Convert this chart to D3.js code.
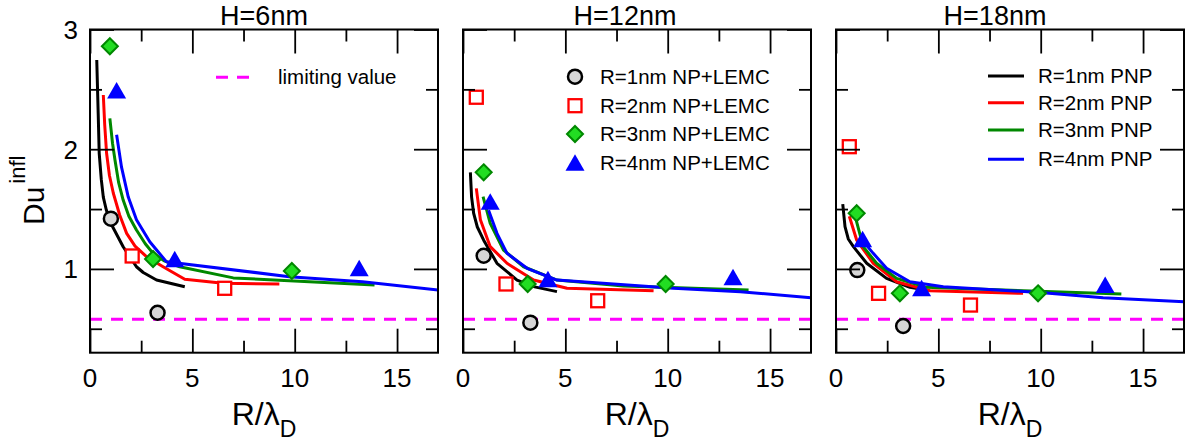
<!DOCTYPE html>
<html lang="en">
<head>
  <meta charset="UTF-8">
  <title>Du infl vs R/lambda_D</title>
  <style>
    body { margin: 0; background: #fff; }
    svg { display: block; font-family: "Liberation Sans", Arial, Helvetica, sans-serif; }
  </style>
</head>
<body>
  <div id="chart"></div>

  <script src="https://d3js.org/d3.v7.min.js"></script>
  <script>

    // ---- data ----
    const panelTitles = ["H=6nm", "H=12nm", "H=18nm"];
    const xMajor = [0, 5, 10, 15],
          xMinor = [2.5, 7.5, 12.5],
          yMajor = [1, 2, 3],
          yMinor = [0.5, 1.5, 2.5];
    const limitingValue = 0.58;

    const lemcLabels = ["R=1nm NP+LEMC", "R=2nm NP+LEMC", "R=3nm NP+LEMC", "R=4nm NP+LEMC"];
    const pnpLabels = ["R=1nm PNP", "R=2nm PNP", "R=3nm PNP", "R=4nm PNP"];

    // NP+LEMC points, one list per panel (H=6, H=12, H=18)
    const lemcR1 = [
      [[1.02, 1.42], [3.30, 0.634]],
      [[1.01, 1.11], [3.29, 0.551]],
      [[1.04, 0.99], [3.28, 0.523]]
    ];
    const lemcR2 = [
      [[2.06, 1.108], [6.58, 0.838]],
      [[0.65, 2.434], [2.10, 0.874], [6.58, 0.734]],
      [[0.65, 2.021], [2.08, 0.796], [6.57, 0.698]]
    ];
    const lemcR3 = [
      [[0.97, 2.86], [3.08, 1.083], [9.86, 0.983]],
      [[1.01, 1.807], [3.16, 0.874], [9.90, 0.874]],
      [[1.01, 1.465], [3.12, 0.796], [9.87, 0.796]]
    ];
    const lemcR4 = [
      [[1.30, 2.49], [4.14, 1.08], [13.15, 1.005]],
      [[1.33, 1.56], [4.15, 0.913], [13.19, 0.93]],
      [[1.30, 1.247], [4.18, 0.838], [13.15, 0.865]]
    ];

    // PNP curves, one list per panel
    const pnpR1 = [
      [[0.33, 2.745], [0.40, 2.30], [0.45, 1.966], [0.55, 1.75], [0.65, 1.60], [0.80, 1.49], [1.06, 1.367],
       [1.62, 1.185], [2.27, 1.018], [2.60, 0.97], [3.25, 0.907], [4.63, 0.851]],
      [[0.36, 1.807], [0.42, 1.60], [0.52, 1.465], [0.70, 1.35], [1.01, 1.24], [1.66, 1.047], [2.64, 0.907],
       [3.50, 0.85], [4.59, 0.81]],
      [[0.33, 1.542], [0.44, 1.353], [0.60, 1.25], [0.85, 1.186], [1.50, 1.047], [2.47, 0.921], [3.61, 0.846],
       [4.18, 0.830]]
    ];
    const pnpR2 = [
      [[0.65, 2.453], [0.72, 2.20], [0.81, 1.966], [0.95, 1.78], [1.14, 1.632], [1.45, 1.45], [1.79, 1.297],
       [2.20, 1.19], [2.76, 1.102], [3.57, 1.018], [4.63, 0.913], [6.50, 0.88], [9.25, 0.874]],
      [[0.65, 1.673], [0.85, 1.41], [1.33, 1.186], [2.15, 1.047], [3.45, 0.907], [5.08, 0.838], [9.31, 0.818]],
      [[0.65, 1.44], [1.01, 1.241], [1.82, 1.047], [2.96, 0.893], [4.59, 0.818], [9.14, 0.796]]
    ];
    const pnpR3 = [
      [[0.97, 2.258], [1.10, 2.05], [1.22, 1.91], [1.40, 1.72], [1.62, 1.575], [1.90, 1.44], [2.27, 1.325],
       [2.70, 1.21], [3.08, 1.13], [3.60, 1.07], [4.38, 1.018], [7.00, 0.925], [13.90, 0.865]],
      [[0.98, 1.604], [1.33, 1.38], [1.98, 1.158], [2.96, 1.018], [4.59, 0.907], [7.84, 0.857], [13.95, 0.824]],
      [[0.95, 1.43], [1.33, 1.186], [1.98, 1.047], [2.96, 0.921], [4.42, 0.846], [13.94, 0.79]]
    ];
    const pnpR4 = [
      [[1.30, 2.12], [1.54, 1.85], [1.87, 1.60], [2.27, 1.41], [2.92, 1.227], [3.73, 1.06], [9.74, 0.935],
       [13.31, 0.893], [17.0, 0.823]],
      [[1.25, 1.49], [1.66, 1.297], [2.15, 1.13], [3.13, 1.005], [4.59, 0.907], [10.29, 0.838], [13.55, 0.81],
       [17.0, 0.759]],
      [[1.30, 1.236], [1.82, 1.13], [2.47, 1.005], [3.61, 0.893], [5.24, 0.851], [10.12, 0.801], [13.05, 0.759],
       [17.0, 0.726]]
    ];

    // ---- layout ----
    const width = 1194, height = 448;
    const panelLeft = [90, 463, 836],
          panelW = 348,
          plotTop = 29.5, plotBottom = 352.7;
    const titleX = [264, 625, 995];

    const lineColors = ["#000000", "#ff0000", "#008800", "#0000ff"];
    const lemcSets = [lemcR1, lemcR2, lemcR3, lemcR4];
    const pnpSets = [pnpR1, pnpR2, pnpR3, pnpR4];

    const svg = d3.select("#chart")
      .append("svg")
      .attr("width", width)
      .attr("height", height);

    // marker drawing
    function marker(g, kind, cx, cy) {
      if (kind === 0) {
        g.append("circle").attr("cx", cx).attr("cy", cy).attr("r", 7)
          .attr("fill", "#d6d6d6").attr("stroke", "#000").attr("stroke-width", 2.5);
      } else if (kind === 1) {
        g.append("rect").attr("x", cx - 6.5).attr("y", cy - 6.5).attr("width", 13).attr("height", 13)
          .attr("fill", "#fff").attr("stroke", "#ff0000").attr("stroke-width", 2.3);
      } else if (kind === 2) {
        g.append("path").attr("d", `M${cx},${cy - 8}L${cx + 8},${cy}L${cx},${cy + 8}L${cx - 8},${cy}Z`)
          .attr("fill", "#22dd22").attr("stroke", "#008800").attr("stroke-width", 2);
      } else {
        g.append("path").attr("d", `M${cx},${cy - 8.5}L${cx + 9.5},${cy + 8}L${cx - 9.5},${cy + 8}Z`)
          .attr("fill", "#0000ff");
      }
    }

    panelTitles.forEach((title, p) => {
      const x = d3.scaleLinear([0, 17], [panelLeft[p], panelLeft[p] + panelW]);
      const y = d3.scaleLinear([0.3, 3], [plotBottom, plotTop]);
      const g = svg.append("g");

      const clipId = "clip" + p;
      svg.append("clipPath").attr("id", clipId)
        .append("rect")
        .attr("x", panelLeft[p]).attr("y", plotTop)
        .attr("width", panelW).attr("height", plotBottom - plotTop);

      const plot = g.append("g").attr("clip-path", `url(#${clipId})`);

      // limiting value
      plot.append("line")
        .attr("x1", x(0)).attr("x2", x(17))
        .attr("y1", y(limitingValue)).attr("y2", y(limitingValue))
        .attr("stroke", "#ff00ff").attr("stroke-width", 3)
        .attr("stroke-dasharray", "12 9");

      // PNP curves
      const line = d3.line().x(d => x(d[0])).y(d => y(d[1]));
      pnpSets.forEach((set, i) => {
        plot.append("path")
          .attr("d", line(set[p]))
          .attr("fill", "none")
          .attr("stroke", lineColors[i])
          .attr("stroke-width", 3)
          .attr("stroke-linejoin", "round");
      });

      // NP+LEMC markers
      lemcSets.forEach((set, i) => {
        set[p].forEach(d => marker(g, i, x(d[0]), y(d[1])));
      });

      // axes: ticks inside on all four sides
      const axes = [
        [d3.axisBottom(x), `translate(0,${plotBottom})`, xMajor, xMinor],
        [d3.axisTop(x), `translate(0,${plotTop})`, xMajor, xMinor],
        [d3.axisLeft(y), `translate(${panelLeft[p]},0)`, yMajor, yMinor],
        [d3.axisRight(y), `translate(${panelLeft[p] + panelW},0)`, yMajor, yMinor]
      ];
      axes.forEach(([ax, tr, major, minor]) => {
        g.append("g").attr("transform", tr)
          .call(ax.tickValues(major).tickSize(-24).tickFormat(""))
          .call(a => a.select(".domain").remove());
        g.append("g").attr("transform", tr)
          .call(ax.tickValues(minor).tickSize(-12).tickFormat(""))
          .call(a => a.select(".domain").remove());
      });
      g.selectAll(".tick line").attr("stroke", "#000").attr("stroke-width", 1.8);

      // frame
      g.append("rect")
        .attr("x", panelLeft[p]).attr("y", plotTop)
        .attr("width", panelW).attr("height", plotBottom - plotTop)
        .attr("fill", "none").attr("stroke", "#000").attr("stroke-width", 2);

      // x tick labels
      g.selectAll(".xlab")
        .data(xMajor)
        .join("text")
        .attr("x", d => x(d))
        .attr("y", 387)
        .attr("text-anchor", "middle")
        .style("font-size", "26px")
        .text(d => d);

      // y tick labels (first panel only)
      if (p === 0) {
        g.selectAll(".ylab")
          .data(yMajor)
          .join("text")
          .attr("x", 78)
          .attr("y", d => y(d))
          .attr("dy", "0.36em")
          .attr("text-anchor", "end")
          .style("font-size", "26px")
          .text(d => d);
      }

      // title
      g.append("text")
        .attr("x", titleX[p])
        .attr("y", 25)
        .attr("text-anchor", "middle")
        .style("font-size", "27px")
        .text(title);

      // x axis label R/λD
      const xl = g.append("text")
        .attr("x", panelLeft[p] + panelW / 2)
        .attr("y", 425)
        .attr("text-anchor", "middle")
        .style("font-size", "32px");
      xl.append("tspan").text("R/λ");
      xl.append("tspan").attr("dy", 12).style("font-size", "23px").text("D");
    });

    // y axis label Du^infl
    const yl = svg.append("text")
      .attr("transform", "translate(44,225) rotate(-90)")
      .style("font-size", "30px");
    yl.append("tspan").text("Du");
    yl.append("tspan").attr("dx", 3).attr("dy", -19).style("font-size", "22px").text("infl");

    // legend: limiting value (panel 1)
    svg.append("line")
      .attr("x1", 216).attr("x2", 253).attr("y1", 77.3).attr("y2", 77.3)
      .attr("stroke", "#ff00ff").attr("stroke-width", 3)
      .attr("stroke-dasharray", "12 9");
    svg.append("text")
      .attr("x", 278).attr("y", 77.3).attr("dy", "0.35em")
      .style("font-size", "20.5px")
      .text("limiting value");

    // legend: NP+LEMC (panel 2)
    const lemcRows = [76.7, 105.7, 134, 162.7];
    lemcLabels.forEach((lab, i) => {
      marker(svg, i, 575, lemcRows[i]);
      svg.append("text")
        .attr("x", 600).attr("y", lemcRows[i]).attr("dy", "0.35em")
        .style("font-size", "20.5px")
        .text(lab);
    });

    // legend: PNP (panel 3)
    const pnpRows = [76, 102.7, 130, 159.3];
    pnpLabels.forEach((lab, i) => {
      svg.append("line")
        .attr("x1", 988).attr("x2", 1024).attr("y1", pnpRows[i]).attr("y2", pnpRows[i])
        .attr("stroke", lineColors[i]).attr("stroke-width", 3);
      svg.append("text")
        .attr("x", 1038).attr("y", pnpRows[i]).attr("dy", "0.35em")
        .style("font-size", "20.5px")
        .text(lab);
    });

  </script>
</body>
</html>
